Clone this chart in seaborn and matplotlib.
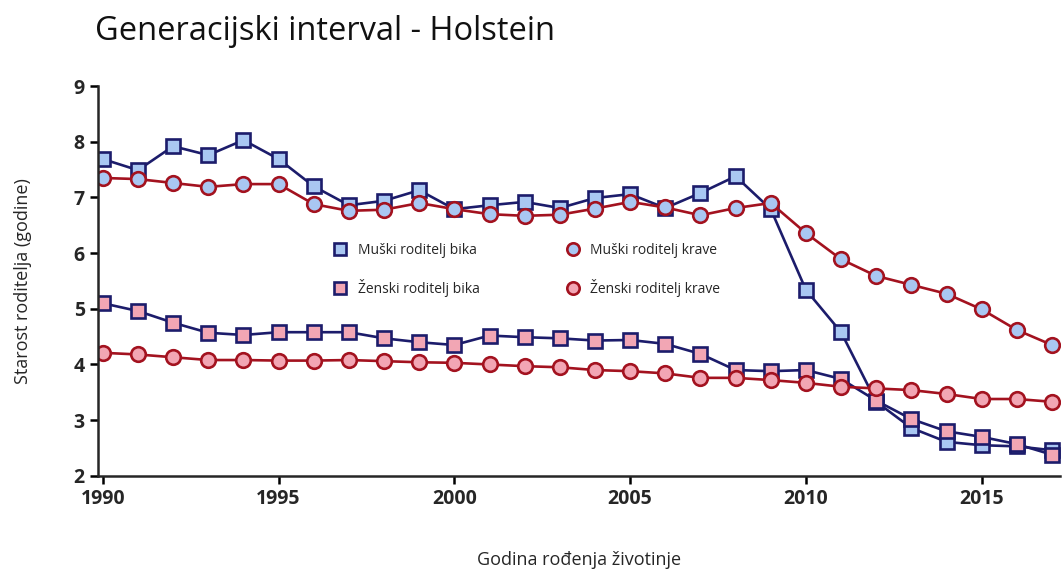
import matplotlib
matplotlib.use("Agg")
import matplotlib.pyplot as plt
import seaborn as sns
import pandas as pd

godine = list(range(1990, 2018))

# Muški roditelj bika
muski_bika = [7.69, 7.49, 7.92, 7.76, 8.03, 7.69, 7.20, 6.86, 6.94, 7.13,
              6.79, 6.86, 6.92, 6.81, 6.99, 7.06, 6.81, 7.08, 7.38, 6.79,
              5.34, 4.58, 3.33, 2.86, 2.61, 2.55, 2.53, 2.46]
# Ženski roditelj bika
zenski_bika = [5.10, 4.96, 4.75, 4.57, 4.53, 4.58, 4.58, 4.58, 4.47, 4.40,
               4.35, 4.52, 4.49, 4.47, 4.43, 4.44, 4.37, 4.19, 3.90, 3.88,
               3.90, 3.74, 3.35, 3.02, 2.80, 2.70, 2.57, 2.38]
# Muški roditelj krave
muski_krave = [7.35, 7.33, 7.26, 7.19, 7.24, 7.24, 6.88, 6.76, 6.78, 6.90,
               6.79, 6.70, 6.67, 6.69, 6.80, 6.92, 6.82, 6.68, 6.81, 6.90,
               6.36, 5.89, 5.59, 5.43, 5.27, 4.99, 4.62, 4.35]
# Ženski roditelj krave
zenski_krave = [4.21, 4.18, 4.13, 4.08, 4.08, 4.07, 4.07, 4.08, 4.06, 4.04,
                4.03, 4.00, 3.97, 3.95, 3.90, 3.88, 3.84, 3.76, 3.76, 3.72,
                3.67, 3.60, 3.57, 3.54, 3.47, 3.38, 3.38, 3.33]

navy = "#1c1c6b"
crvena = "#a3121f"
plava = "#a9c7f2"
roza = "#f2a6b4"

serije = [
    ("Muški roditelj bika", muski_bika, "s", navy, plava),
    ("Ženski roditelj bika", zenski_bika, "s", navy, roza),
    ("Muški roditelj krave", muski_krave, "o", crvena, plava),
    ("Ženski roditelj krave", zenski_krave, "o", crvena, roza),
]

sns.set_style("ticks")
plt.rcParams["font.family"] = ["Open Sans", "DejaVu Sans"]

fig = plt.figure(figsize=(10.64, 5.74), dpi=100)
ax = fig.add_axes([0.092, 0.171, 0.904, 0.679])

for naziv, vrijednosti, marker, boja, ispuna in serije:
    df = pd.DataFrame({"godina": godine, "starost": vrijednosti})
    sns.lineplot(data=df, x="godina", y="starost", ax=ax, label=naziv,
                 color=boja, linewidth=1.9, marker=marker, markersize=10.5,
                 markerfacecolor=ispuna, markeredgecolor=boja,
                 markeredgewidth=1.9)

ax.set_xlim(1989.86, 2017.22)
ax.set_ylim(2, 9)
ax.set_xticks([1990, 1995, 2000, 2005, 2010, 2015])
ax.set_yticks(range(2, 10))
for lbl in ax.get_xticklabels() + ax.get_yticklabels():
    lbl.set_fontweight("bold")
    lbl.set_fontsize(14)
ax.tick_params(axis="both", length=6, width=1.8, color="black")
ax.spines["left"].set_linewidth(1.8)
ax.spines["bottom"].set_linewidth(1.8)
sns.despine(ax=ax)

ax.set_xlabel("Godina rođenja životinje", fontsize=13, labelpad=30)
ax.set_ylabel("Starost roditelja (godine)", fontsize=13, labelpad=30)

fig.text(0.089, 0.93, "Generacijski interval - Holstein", fontsize=23.5,
         ha="left", va="baseline", color="#111111")

ax.legend(loc="upper left", bbox_to_anchor=(0.232, 0.63), ncol=2,
          frameon=False, fontsize=10, markerscale=0.85, handlelength=1.0,
          columnspacing=6.2, labelspacing=1.5, handletextpad=0.75)
for h in ax.get_legend().get_lines():
    h.set_linestyle("none")

fig.savefig("out.png", dpi=100)
